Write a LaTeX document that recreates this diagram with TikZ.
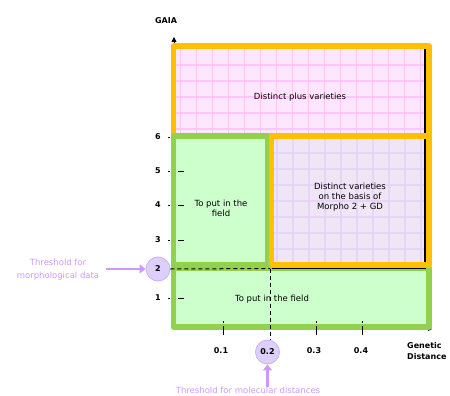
\documentclass[tikz,border=0pt]{standalone}
\usepackage{fontspec}
\setmainfont{DejaVu Sans}
\usetikzlibrary{arrows.meta}
\definecolor{orng}{HTML}{FFC000}
\definecolor{grn}{HTML}{92D050}
\definecolor{lgrn}{HTML}{CCFFCC}
\definecolor{pinkfill}{HTML}{FFE6FF}
\definecolor{pinkgrid}{HTML}{FFC4F8}
\definecolor{lavfill}{HTML}{EEE6F4}
\definecolor{lavgrid}{HTML}{E8D4F8}
\definecolor{purp}{HTML}{CC99FF}
\definecolor{circfill}{HTML}{DCCFFA}
\definecolor{circdraw}{HTML}{CDB0F5}
\begin{document}
\begin{tikzpicture}[x=1pt,y=-1pt,
  txt/.style={inner sep=0pt,font=\fontsize{8.5}{10}\selectfont,align=center},
  axlab/.style={inner sep=0pt,font=\fontsize{8}{11}\selectfont\bfseries,align=left},
  ticklab/.style={inner sep=0pt,font=\fontsize{8}{9}\selectfont\bfseries},
  purptxt/.style={inner sep=0pt,font=\fontsize{8.5}{13}\selectfont,text=purp,align=center},
  thr/.style={circle,fill=circfill,draw=circdraw,line width=0.8pt,minimum size=24pt,inner sep=0pt,font=\fontsize{8}{9}\selectfont\bfseries},
  parrow/.style={purp,line width=2.6pt,-{Triangle[length=6pt,width=9pt]}},
  gridline/.style={line width=1.8pt},
  border/.style={line width=5.5pt,line join=round},
  ytick/.style={line width=1pt,dash pattern=on 1.5pt off 8pt on 6pt},
  xtick/.style={line width=1pt,dash pattern=on 1.5pt off 3pt on 10pt}
]
\useasboundingbox (0,0) rectangle (450,396);

% axes
\draw[line width=0.8pt,-{Triangle[length=5pt,width=5pt]}] (174,329) -- (174,37);
\draw[line width=0.8pt,-{Triangle[length=4pt,width=4pt]}] (174,329) -- (432,329);

% bottom field region
\fill[lgrn] (173.5,268) rectangle (429,327);
\draw[grn,border] (173.5,268) rectangle (429,327);

% top pink region
\fill[pinkfill] (173.5,46) rectangle (429,136);
\begin{scope}
  \clip (176,49) rectangle (427,136);
  \foreach \x in {180.5,196.5,...,430} \draw[pinkgrid,gridline] (\x,45) -- (\x,136);
  \foreach \y in {65,81,...,134} \draw[pinkgrid,gridline] (172,\y) -- (432,\y);
\end{scope}
\draw[line width=1.5pt] (425,48) -- (425,136);
\draw[orng,border] (173.5,46) rectangle (429,136);

% middle left green
\fill[lgrn] (173.5,136) rectangle (268,265);
\draw[grn,border] (173.5,136) rectangle (268,265);

% middle right orange
\fill[lavfill] (271.5,136) rectangle (429,265);
\begin{scope}
  \clip (274,138) rectangle (427,265);
  \foreach \x in {277.3,293.3,...,430} \draw[lavgrid,gridline] (\x,135) -- (\x,268);
  \foreach \y in {153,169,...,266} \draw[lavgrid,gridline] (270,\y) -- (432,\y);
\end{scope}
\draw[line width=1.5pt] (425,138) -- (425,268.5) -- (272,268.5);
\draw[orng,border] (271.5,136) rectangle (429,265);

% y ticks
\foreach \y in {171,205,240,298} \draw[ytick] (168,\y) -- (184,\y);
\draw[line width=1pt] (168,137) -- (170,137);

% x ticks
\foreach \x in {223,316,362} \draw[xtick] (\x,321) -- (\x,335);

% threshold circles and dashed lines
\node[thr] (c2) at (158,269) {2};
\node[thr] (c02) at (267.5,352) {0.2};
\coordinate (corner) at (270,268.5);
\coordinate (vbot) at (270,339);
\draw[line width=1pt,dash pattern=on 4pt off 3pt] (c2.east) -- (corner);
\draw[line width=1pt,dash pattern=on 4pt off 3pt] (corner) -- (vbot);

% y tick labels
\node[ticklab] (l6) at (158,137) {6};
\node[ticklab] (l5) at (158,171) {5};
\node[ticklab] (l4) at (158,205) {4};
\node[ticklab] (l3) at (158,240) {3};
\node[ticklab] (l1) at (158,298) {1};

% x tick labels
\node[ticklab] (x1) at (221,351) {0.1};
\node[ticklab] (x3) at (314,351) {0.3};
\node[ticklab] (x4) at (361,351) {0.4};

% axis labels
\node[axlab] (gaia) at (166,21) {GAIA};
\node[axlab,anchor=west] (gd) at (407,351) {Genetic\\Distance};

% region texts
\node[txt] (t1) at (300,97) {Distinct plus varieties};
\node[txt] (t2) at (221,208) {To put in the\\field};
\node[txt] (t3) at (350,197) {Distinct varieties\\on the basis of\\Morpho 2 + GD};
\node[txt] (t4) at (272,299) {To put in the field};

% threshold labels
\node[purptxt] (thm) at (58,269.5) {Threshold for\\morphological data};
\node[purptxt] (thmol) at (248,390.5) {Threshold for molecular distances};
\draw[parrow] (106,269) -- (c2.west);
\draw[parrow] (thmol.north -| c02) -- (c02.south);
\end{tikzpicture}
\end{document}
